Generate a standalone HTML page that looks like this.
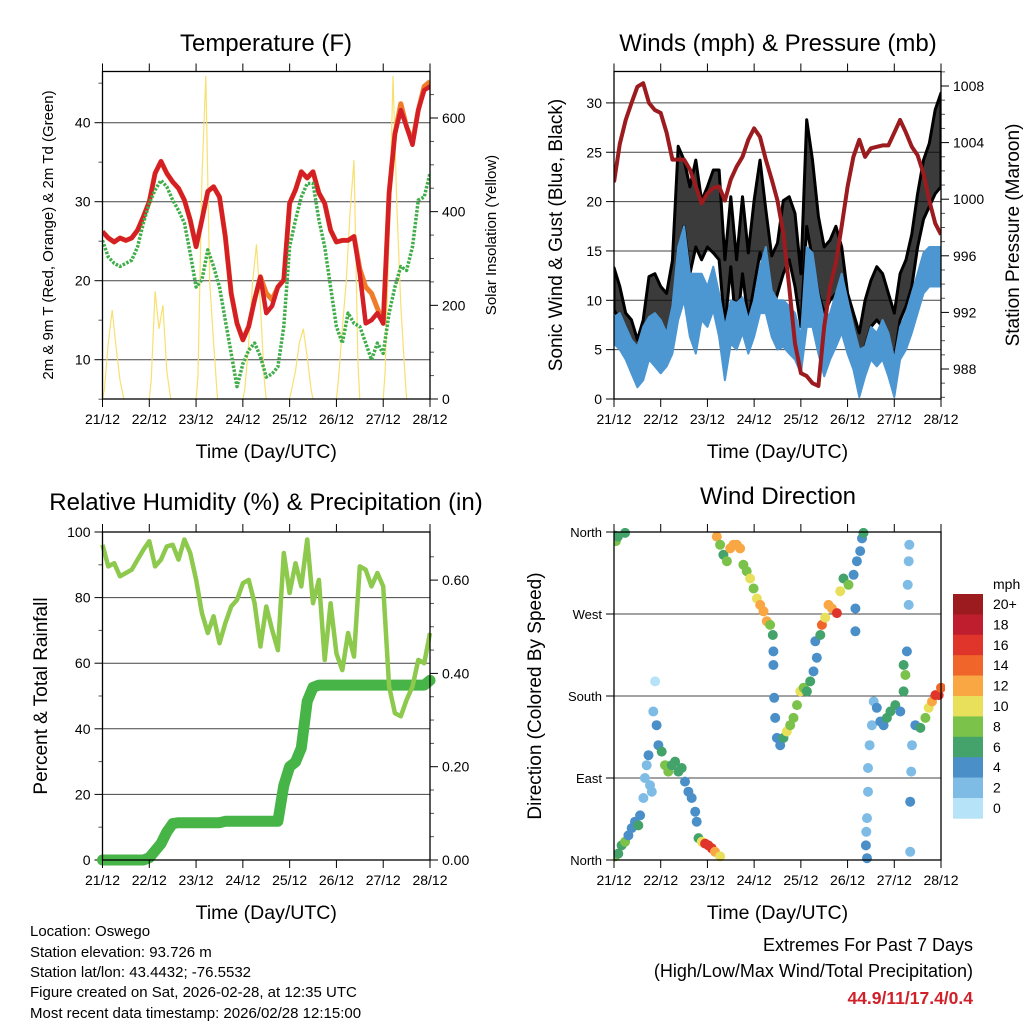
<!DOCTYPE html>
<html><head><meta charset="utf-8">
<style>
html,body{margin:0;padding:0;background:#fff;}
svg{display:block;font-family:"Liberation Sans",Arial,sans-serif;}
</style></head>
<body>
<svg id="fig" width="1024" height="1024" viewBox="0 0 1024 1024" xmlns="http://www.w3.org/2000/svg">
<rect width="1024" height="1024" fill="#fff"/>
<g id="p1"></g>
<g id="p2"></g>
<g id="p3"></g>
<g id="p4"></g>
<g id="txt" font-size="15" fill="#000">
<text x="30" y="936">Location: Oswego</text>
<text x="30" y="957">Station elevation: 93.726 m</text>
<text x="30" y="977">Station lat/lon: 43.4432; -76.5532</text>
<text x="30" y="997">Figure created on Sat, 2026-02-28, at 12:35 UTC</text>
<text x="30" y="1018">Most recent data timestamp: 2026/02/28 12:15:00</text>
</g>
<g text-anchor="end">
<text x="973" y="951" font-size="18">Extremes For Past 7 Days</text>
<text x="973" y="977" font-size="18">(High/Low/Max Wind/Total Precipitation)</text>
<text x="973" y="1004" font-size="17.5" font-weight="bold" fill="#d0202a">44.9/11/17.4/0.4</text>
</g>
</svg>
<script>
// ---------- data (3-hourly, hours from 21/12 00Z) ----------
var dayLabels = ["21/12","22/12","23/12","24/12","25/12","26/12","27/12","28/12"];
var tempT2 = [26.2,25.4,24.9,25.4,25.1,25.4,26.4,28.1,30,33.6,35.1,33.6,32.5,31.7,30.2,27.7,24.3,27.7,31.3,31.9,30.6,25.6,18.4,14.6,12.5,14.2,17.6,20.5,15.9,16.8,19.2,20.1,29.8,31.5,33.8,33,33.8,31.1,29.8,26.4,24.9,25.1,25.1,25.6,20.9,14.6,15,15.9,14.6,31.1,38.6,41.6,39.5,37.2,41.6,44.1,44.6];
var tempT9 = [26.2,25.4,24.9,25.4,25.1,25.4,26.4,28.1,30,33.6,35.1,33.6,32.5,31.7,30.2,27.7,24.3,27.7,31.3,31.9,30.6,25.6,18.4,14.6,12.5,14.2,17.6,20.5,18.4,17.6,19.2,20.1,29.8,31.5,33.8,33,33.8,31.1,29.8,26.4,24.9,25.1,25.1,25.6,21.5,19.2,18.4,16.5,14.6,31.1,38.6,42.4,39.5,37.6,41.6,44.6,45.2];
var tempTd = [25.1,23,22.2,21.8,22.2,22.6,24.3,27.3,29.8,31.5,32.7,31.9,30.2,28.9,27.3,23.5,19.2,20.1,23.9,21.8,19.2,15,10.8,6.6,9.5,11.2,12.1,10.4,7.8,8.2,9.1,14.2,24.3,27.7,30.6,32.3,32.3,27.7,24.3,19.2,14.2,12.1,15.9,14.6,14.2,12.1,10,12.1,10.8,15.9,19.2,21.8,21.3,24.3,30.2,30.6,33.6];
var solarHours = [-1,0,2,4,6,8,10,11];
var solarDays = [
 [0,20,120,190,110,40,0,0],
 [0,40,230,150,200,60,0,0],
 [0,50,470,690,250,120,0,0],
 [0,20,120,250,330,200,40,0],
 [0,20,60,120,150,90,20,0],
 [0,40,150,250,400,510,80,0],
 [0,60,350,690,410,200,60,0]];
var pressure = [1001.2,1003.9,1005.6,1006.8,1007.95,1008.2,1006.8,1006.3,1006.1,1004.7,1002.8,1002.8,1002.8,1002.1,1000.9,999.7,1000.4,1000.8,1000.9,999.9,1001.4,1002.3,1003,1004.2,1005,1004.4,1002.8,1001.4,999.9,997.6,993.8,989.8,987.7,987.5,987,986.8,991,993.8,995.5,998.1,1000.9,1003,1004.2,1003,1003.6,1003.7,1003.8,1003.8,1004.7,1005.6,1004.7,1003.7,1003.1,1001.8,999.9,998.3,997.5];
var windHi = [8.3,8.7,7.3,6,5.3,7.3,8.3,8.7,8,6.7,9.4,15.4,17.5,12.7,12.7,12.7,11.4,13.4,10.7,7.3,10,9.7,10.3,8,10,13.4,15.4,11,10,10,9.4,8.7,6.3,15.4,14.8,10.7,8,8.7,10.7,12.7,10,7.3,5,5.3,7.3,6.7,8,6.7,4,7.3,8.7,10.7,12.7,14.8,15.4,15.4,15.4];
var windLo = [5.6,5,4,2.6,1.2,1.9,4,3.3,2.6,3.3,4.6,8,10,6.3,4.6,8,7.3,9,6.3,1.9,5.6,5,6.7,4.6,6.3,8.7,8.7,6.3,5,5.3,4.6,4,2.6,7.3,7.3,4.6,2.3,4,5.3,6.7,4.6,3,0.2,2.3,4,3.3,4,2.3,0.2,4,5,6.7,8.7,10.7,11.4,11.4,11.4];
var gustHi = [13.3,11.4,8.7,8,6,8,12.4,12.7,11.4,10.7,14,25.6,24.2,21.5,24.2,20.1,21.5,23.2,23.2,14.1,20.5,14.1,20.5,14.8,20.1,24.2,19.2,14.5,15.8,20.1,20.5,18.8,12.7,28.3,24.2,18.5,15.4,16.1,17.5,15.4,10.7,8.7,6.7,10,12,13.4,12.7,10.7,8.7,12.7,14.1,16.7,20.8,24.2,25.9,29.3,31];
var gustLo = [9,8,5.6,4.6,3,4,7.3,8,7.3,6.7,8.7,14.1,17.5,12.7,15.4,14.1,15.4,14.8,14.1,7.3,13.4,6.7,12.7,8,11.4,14.8,12.7,8.7,10.7,12.7,14.1,11.4,7.3,17.5,14.1,10.7,8.7,10,10.7,9.4,6,4.6,0.6,5.3,7.3,8,7.3,5.3,4,8,9.4,11.4,15.4,18.2,19.5,20.8,21.5];
var rh = [96.1,89.5,90.5,86.5,87.5,88.5,91.6,94.6,97.2,89.5,91.6,95.6,96.1,91.6,97.7,93.6,85.5,75.3,69.2,74.3,66.1,72.2,77.3,79.3,84.4,85.4,78.3,65.1,77.3,70.2,64,93.6,81.4,90.5,83.4,97.7,78.3,85.4,61,78.3,63,57.9,69.2,62,89.5,88.5,83.4,87.5,83.4,52.9,44.8,43.8,48.8,52.9,61,60,69.2];
var precip = [0,0,0,0,0,0,0,0,0.005,0.02,0.035,0.06,0.078,0.08,0.08,0.08,0.08,0.08,0.08,0.08,0.08,0.083,0.083,0.083,0.083,0.083,0.083,0.083,0.083,0.083,0.083,0.16,0.2,0.21,0.24,0.34,0.37,0.375,0.375,0.375,0.375,0.375,0.375,0.375,0.375,0.375,0.375,0.375,0.375,0.375,0.375,0.375,0.375,0.375,0.375,0.375,0.385];
var dirHour = [0,0.5,1,2,5.7, 0.5,2.2,3.9,5.7,7.4,9.1,10.8,12.5,13.4,15.1,15.9,16.8,17.7,18.5,19.4,20.2,21.1,21.9,22.8,24.5,26.2,27.9,29.7,31.4,33.1,34.8,36.5,38.2,39.9,41.7,42.5,43.4,45.1,46.8,48.5,50.2,51.9,54.5,
 52.8,54.5,56.2,58,59.7,61.4,63.1,64.8,66.5,68.2,69.9,71.7,73.4,75.1,76.8,78.5,80.2,81.6,81.9,81.9,
 82.3,82.8,83.7,85.4,87.1,88.8,90.5,92.2,94,95.7,97.4,99.1,100.8,102.5,104.2,103.4,106,106.8,108.5,110.2,112,114.5,116.2,117.9,120.5,123.1,124.8,126.5,127.4,128.2,124,124,
 130,129.4,129.6,130,130.5,130.5,131.3,132.5,133.4,135,136.8,138.5,140.2,142,144.5,147.1,148.8,149.7,148.8,150.5,
 151.7,151.4,150.9,151.4,153.1,152.7,152.2,152.2,154.8,157.4,160,161.7,163.4,165.1,166.8,168];
var dirDeg = [352,356,350,355,359, 4,7,16,20,27,35,42,38,49,68,90,104,115,82,75,163,196,148,126,119,104,97,104,108,97,101,86,75,68,53,42,24,20,18,16,13,9,4,
 355,346,335,328,342,346,346,342,324,317,309,298,287,280,273,262,258,247,229,214,
 178,156,134,126,134,141,148,156,170,185,189,185,196,207,222,240,247,258,266,280,276,271,295,309,302,313,328,339,353,359,276,251,
 2,16,31,46,75,101,126,148,174,167,152,148,156,163,170,163,185,203,214,229,
 346,328,302,280,126,97,64,9,148,145,156,167,174,181,181,189];
var dirSpd = [6,6,8,6,6, 8,6,6,8,4,4,4,6,4,2,2,2,4,2,2,2,0,4,4,6,8,8,6,6,6,6,4,4,4,4,4,6,10,16,16,16,12,10,
 12,8,6,8,12,12,12,12,8,8,10,8,10,12,12,12,8,6,4,4,
 4,4,4,4,6,10,8,8,8,10,8,6,6,4,4,4,6,14,10,12,12,16,10,6,8,4,4,4,4,6,4,4,
 4,4,2,2,2,2,2,2,2,4,4,4,6,6,6,4,6,8,6,4,
 2,2,2,2,2,2,4,2,4,6,8,10,12,16,16,14];
var cbLabels = ["0","2","4","6","8","10","12","14","16","18","20+"];
var cbColors = ["#b6e3f8","#7ebce6","#4a8fc7","#44a26b","#7bc24a","#e8e05a","#f9a743","#f06529","#e0352b","#be1e2d","#9b1b1e"];

// ---------- helpers ----------
var NS = "http://www.w3.org/2000/svg";
function mk(parent, tag, attrs, text){
  var e = document.createElementNS(NS, tag);
  for (var k in attrs) e.setAttribute(k, attrs[k]);
  if (text !== undefined) e.textContent = text;
  parent.appendChild(e);
  return e;
}
function hrs(i){ return i*3; }
function pathFrom(vals, fx, fy){
  var d = "";
  for (var i=0;i<vals.length;i++){ d += (i?"L":"M") + fx(hrs(i)).toFixed(1) + "," + fy(vals[i]).toFixed(1); }
  return d;
}
function bandFrom(hi, lo, fx, fy){
  var d = "";
  for (var i=0;i<hi.length;i++){ d += (i?"L":"M") + fx(hrs(i)).toFixed(1) + "," + fy(hi[i]).toFixed(1); }
  for (var j=lo.length-1;j>=0;j--){ d += "L" + fx(hrs(j)).toFixed(1) + "," + fy(lo[j]).toFixed(1); }
  return d + "Z";
}
function frame(g, L, R, T, B, fx){
  mk(g,"rect",{x:L,y:T,width:R-L,height:B-T,fill:"none",stroke:"#000","stroke-width":1.3});
  for (var d=0; d<dayLabels.length; d++){
    var x = fx(d*24);
    mk(g,"line",{x1:x,y1:T-8,x2:x,y2:T,stroke:"#000","stroke-width":1});
    mk(g,"line",{x1:x,y1:B,x2:x,y2:B+8,stroke:"#000","stroke-width":1});
    var t = mk(g,"text",{x:x,y:B+25,"font-size":14,"text-anchor":"middle"}, dayLabels[d]);
    
    
  }
  var xt = mk(g,"text",{x:(L+R)/2,y:B+59,"font-size":19.5,"text-anchor":"middle"},"Time (Day/UTC)");
  
  
}
function leftAxis(g, L, R, vals, fy, labels, grid, fs){
  for (var i=0;i<vals.length;i++){
    var y = fy(vals[i]);
    if (grid[i]) mk(g,"line",{x1:L,y1:y,x2:R,y2:y,stroke:"#444","stroke-width":1});
    mk(g,"line",{x1:L-8,y1:y,x2:L,y2:y,stroke:"#000","stroke-width":1});
    var t = mk(g,"text",{x:L-12,y:y+5,"font-size":fs||14,"text-anchor":"end"}, labels[i]);
    
    
  }
}
function rightAxis(g, R, vals, fy, labels, minors, fym){
  for (var i=0;i<vals.length;i++){
    var y = fy(vals[i]);
    mk(g,"line",{x1:R,y1:y,x2:R+8,y2:y,stroke:"#000","stroke-width":1});
    var t = mk(g,"text",{x:R+12,y:y+5,"font-size":14,"text-anchor":"start"}, labels[i]);
    
    
  }
  for (var j=0;j<minors.length;j++){
    var ym = fym(minors[j]);
    mk(g,"line",{x1:R,y1:ym,x2:R+4,y2:ym,stroke:"#555","stroke-width":1});
  }
}
function title(g, x, y, s, name){
  var t = mk(g,"text",{x:x,y:y,"font-size":24,"text-anchor":"middle"}, s);
  
  
}
function vtitle(g, x, y, s, fs, name){
  var t = mk(g,"text",{x:x,y:y,"font-size":fs,"text-anchor":"middle",transform:"rotate(-90 "+x+" "+y+")"}, s);
  
  
}

// ---------- panel 1: temperature ----------
(function(){
  var g = document.getElementById("p1");
  var L=102.5,R=430,T=71.5,B=399;
  var fx = function(h){ return L + h/168*(R-L); };
  var fy = function(v){ return 122.7 + (40-v)*7.9; };
  var fs = function(v){ return B - v/600*281; };
  title(g,266,51,"Temperature (F)","temperature-title");
  var cp = mk(g,"clipPath",{id:"c1"}); mk(cp,"rect",{x:L,y:T,width:R-L,height:B-T});
  leftAxis(g,L,R,[10,20,30,40],fy,["10","20","30","40"],[1,1,1,1]);
  var minorsL=[5,15,25,35,45];
  for (var i=0;i<minorsL.length;i++){ mk(g,"line",{x1:L-4,y1:fy(minorsL[i]),x2:L,y2:fy(minorsL[i]),stroke:"#555"}); }
  rightAxis(g,R,[0,200,400,600],fs,["0","200","400","600"],[50,100,150,250,300,350,450,500,550,650],fs);
  var dg = mk(g,"g",{"clip-path":"url(#c1)"});
  for (var d=0; d<solarDays.length; d++){
    var pd="";
    for (var k=0;k<solarHours.length;k++){ pd += (k?"L":"M") + fx(d*24+solarHours[k]+1).toFixed(1) + "," + fs(solarDays[d][k]).toFixed(1); }
    var sp = mk(dg,"path",{d:pd,fill:"none",stroke:"#f8e070","stroke-width":1.2});
    
    
  }
  var o = mk(dg,"path",{d:pathFrom(tempT9,fx,fy),fill:"none",stroke:"#f07c2a","stroke-width":5,"stroke-linejoin":"round"});
  
  
  var r = mk(dg,"path",{d:pathFrom(tempT2,fx,fy),fill:"none",stroke:"#d41f26","stroke-width":4.5,"stroke-linejoin":"round"});
  
  
  var gr = mk(dg,"path",{d:pathFrom(tempTd,fx,fy),fill:"none",stroke:"#3fae49","stroke-width":3.5,"stroke-dasharray":"2.5 1.5","stroke-linejoin":"round"});
  
  
  frame(g,L,R,T,B,fx);
  vtitle(g,53,235,"2m & 9m T (Red, Orange) & 2m Td (Green)",15,"y-axis-title");
  vtitle(g,496,235,"Solar Insolation (Yellow)",15,"y2-axis-title");
})();

// ---------- panel 2: winds & pressure ----------
(function(){
  var g = document.getElementById("p2");
  var L=614,R=941,T=71.5,B=399;
  var fx = function(h){ return L + h/168*(R-L); };
  var fy = function(v){ return B - v*9.87; };
  var fp = function(v){ return 86 + (1008-v)*14.15; };
  title(g,778,51,"Winds (mph) & Pressure (mb)","winds-title");
  var cp = mk(g,"clipPath",{id:"c2"}); mk(cp,"rect",{x:L,y:T,width:R-L,height:B-T});
  leftAxis(g,L,R,[0,5,10,15,20,25,30],fy,["0","5","10","15","20","25","30"],[0,1,1,1,1,1,1]);
  rightAxis(g,R,[988,992,996,1000,1004,1008],fp,["988","992","996","1000","1004","1008"],[986,987,989,990,991,993,994,995,997,998,999,1001,1002,1003,1005,1006,1007,1009],fp);
  var dg = mk(g,"g",{"clip-path":"url(#c2)"});
  var gb = mk(dg,"path",{d:bandFrom(gustHi,gustLo,fx,fy),fill:"#0a0a0a","fill-opacity":0.8,stroke:"#000","stroke-width":3,"stroke-linejoin":"round"});
  
  
  var wb = mk(dg,"path",{d:bandFrom(windHi,windLo,fx,fy),fill:"#4c96d2",stroke:"#4c96d2","stroke-width":2,"stroke-linejoin":"round"});
  
  
  var pl = mk(dg,"path",{d:pathFrom(pressure,fx,fp),fill:"none",stroke:"#9b1b1e","stroke-width":4,"stroke-linejoin":"round"});
  
  
  frame(g,L,R,T,B,fx);
  vtitle(g,562,235,"Sonic Wind & Gust (Blue, Black)",19,"y-axis-title");
  vtitle(g,1019,235,"Station Pressure (Maroon)",19,"y2-axis-title");
})();

// ---------- panel 3: RH & precip ----------
(function(){
  var g = document.getElementById("p3");
  var L=102.5,R=430,T=532,B=860;
  var fx = function(h){ return L + h/168*(R-L); };
  var fy = function(v){ return B - v*3.28; };
  var fp = function(v){ return B - v/0.2*93.3; };
  title(g,266,510,"Relative Humidity (%) & Precipitation (in)","humidity-title");
  var cp = mk(g,"clipPath",{id:"c3"}); mk(cp,"rect",{x:L-8,y:T,width:R-L+16,height:B-T+8});
  leftAxis(g,L,R,[0,20,40,60,80,100],fy,["0","20","40","60","80","100"],[0,1,1,1,1,0]);
  var ml=[10,30,50,70,90];
  for (var i=0;i<ml.length;i++){ mk(g,"line",{x1:L-4,y1:fy(ml[i]),x2:L,y2:fy(ml[i]),stroke:"#555"}); }
  rightAxis(g,R,[0,0.2,0.4,0.6],fp,["0.00","0.20","0.40","0.60"],[0.05,0.1,0.15,0.25,0.3,0.35,0.45,0.5,0.55,0.65],fp);
  var dg = mk(g,"g",{"clip-path":"url(#c3)"});
  var pr = mk(dg,"path",{d:pathFrom(precip,fx,fp),fill:"none",stroke:"#46b446","stroke-width":11,"stroke-linejoin":"round","stroke-linecap":"round"});
  
  
  var rl = mk(dg,"path",{d:pathFrom(rh,fx,fy),fill:"none",stroke:"#8dc94c","stroke-width":4.5,"stroke-linejoin":"round"});
  
  
  frame(g,L,R,T,B,fx);
  vtitle(g,47,696,"Percent & Total Rainfall",19,"y-axis-title");
})();

// ---------- panel 4: wind direction ----------
(function(){
  var g = document.getElementById("p4");
  var L=614,R=941,T=532,B=860;
  var fx = function(h){ return L + h/168*(R-L); };
  var fy = function(v){ return B - v/360*(B-T); };
  title(g,778,504,"Wind Direction","wind-direction-title");
  leftAxis(g,L,R,[0,90,180,270,360],fy,["North","East","South","West","North"],[0,1,1,1,0],13);
  var cp = mk(g,"clipPath",{id:"c4"}); mk(cp,"rect",{x:L,y:T-4,width:R-L+4,height:B-T+8});
  var dg = mk(g,"g",{"clip-path":"url(#c4)"});
  for (var i=0;i<dirHour.length;i++){
    var ci = Math.min(10, Math.round(dirSpd[i]/2));
    var c = mk(dg,"circle",{cx:fx(dirHour[i]).toFixed(1),cy:fy(dirDeg[i]).toFixed(1),r:5,fill:cbColors[ci]});
    
    
  }
  frame(g,L,R,T,B,fx);
  vtitle(g,541,696,"Direction (Colored By Speed)",19,"y-axis-title");
  var lg = mk(g,"g",{});
  
  
  var mt = mk(lg,"text",{x:993,y:589,"font-size":14},"mph");
  
  
  var top=594, h=20.4;
  for (var k=0;k<cbColors.length;k++){
    var idx = cbColors.length-1-k;
    var rc = mk(lg,"rect",{x:953,y:(top+k*h).toFixed(1),width:30,height:h+0.3,fill:cbColors[idx]});
    
    
    var tl = mk(lg,"text",{x:993,y:(top+k*h+15).toFixed(1),"font-size":14},cbLabels[idx]);
    
    
  }
})();
</script>
</body></html>
